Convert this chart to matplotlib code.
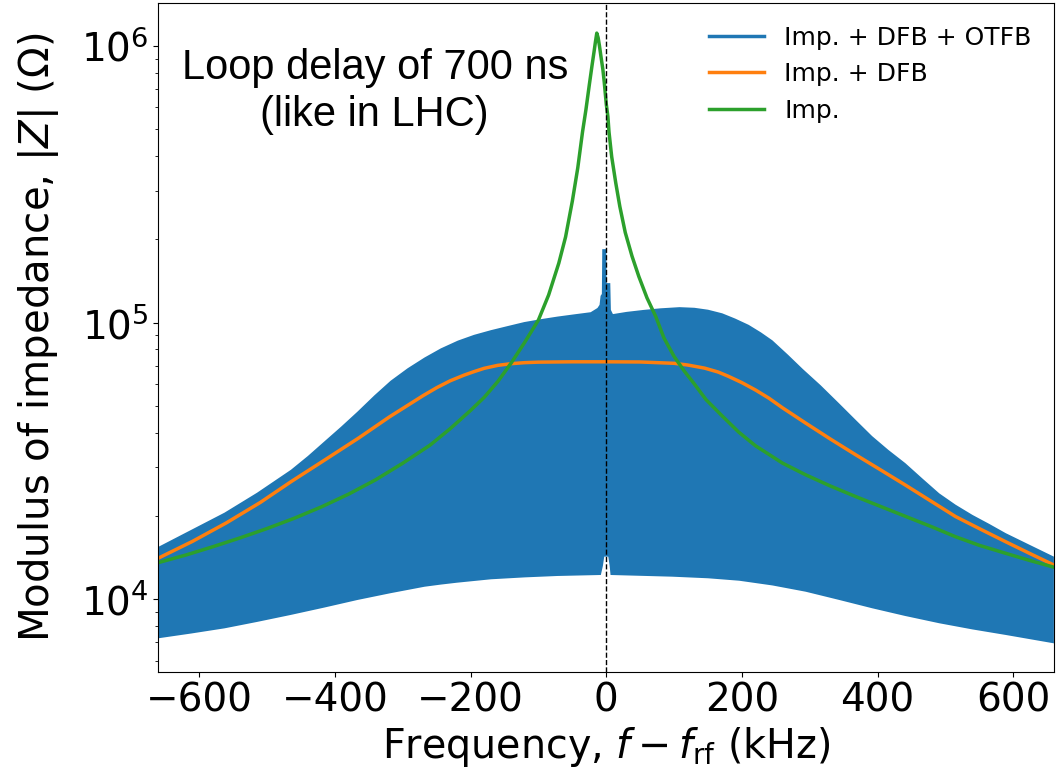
import numpy as np
import matplotlib
matplotlib.use('agg')
import matplotlib.pyplot as plt
from matplotlib.lines import Line2D

# frequency offsets in kHz, impedances in Ohm
# OTFB curve oscillates very fast, so it is given by its upper / lower envelope
up_f = [-660, -612, -563, -515, -465, -440, -416, -391, -367, -342, -318, -293,
        -268, -244, -219, -195, -170, -145, -121, -96, -72, -47, -23, -13, -9.9,
        -8.4, -6.5, -5.9, 0, 0.5, 5.9, 6.8, 9.8, 30, 55, 80, 108, 130, 150, 171,
        190, 210, 228, 245, 268, 290, 316, 343, 368, 392, 416, 441, 466, 491, 515,
        540, 565, 589, 625, 660]
otfb_upper = [15490, 17820, 20560, 24270, 29380, 32960, 37150, 42070, 47640, 54580,
              61660, 68390, 74820, 80720, 86100, 90360, 93970, 97270, 100500, 103000,
              105200, 107200, 109100, 113000, 116000, 125000, 127000, 184400, 184400,
              139000, 139000, 111200, 107400, 109400, 111200, 112700, 113800, 113200,
              111400, 108100, 103500, 98200, 92260, 86300, 76560, 67920, 59430, 51170,
              44460, 38900, 34670, 31050, 27350, 24150, 21980, 20180, 18710, 17340,
              15700, 14260]

low_f = [-660, -612, -563, -515, -465, -416, -367, -318, -268, -244, -220, -170, -120,
         -72, -8, -5, -3, 3, 5, 6.3, 97, 150, 196, 245, 294, 343, 392, 440, 491, 540,
         589, 660]
otfb_lower = [7230, 7520, 7850, 8280, 8780, 9330, 9940, 10520, 11100, 11300, 11480,
              11810, 12000, 12140, 12240, 13200, 14260, 14260, 13200, 12240, 12070,
              11910, 11670, 11220, 10650, 9950, 9280, 8710, 8190, 7780, 7430, 6930]

dfb_f = [-660, -610, -560, -510, -465, -415, -365, -320, -270, -250, -230, -210,
         -195, -180, -160, -140, -120, -100, -50, 0, 50, 100, 120, 145, 165, 180, 200,
         220, 240, 260, 294, 330, 368, 405, 441, 478, 515, 552, 589, 625, 660]
dfb_z = [14100, 16200, 18900, 22400, 26600, 31900, 38300, 45600, 54500, 58210, 61660,
         64570, 66530, 68390, 70100, 71100, 71700, 72000, 72200, 72200, 72100, 71300,
         70300, 68500, 66300, 64000, 60700, 57100, 53300, 49200, 43350, 38020, 33270,
         29310, 25880, 22700, 19910, 17910, 16140, 14620, 13300]

imp_f = [-660, -620, -580, -540, -500, -460, -420, -380, -340, -300, -260, -230,
         -200, -180, -160, -140, -120, -100, -85, -70, -60, -50, -42, -35, -30, -25,
         -21, -18, -16, -14, -12, -10, -8, -5, -3, 0, 2.4, 4, 8, 14, 20, 28, 38, 48,
         60, 73, 85, 100, 115, 130, 147, 170, 195, 220, 260, 294, 330, 368, 405, 441,
         480, 515, 550, 589, 625, 660]
imp_z = [13580, 14450, 15490, 16670, 18030, 19630, 21580, 23990, 27040, 31050, 36060,
         41400, 48190, 53700, 61240, 71610, 85110, 102300, 125900, 164100, 204200,
         275400, 363100, 489800, 588800, 724400, 851100, 955000, 1035000, 1114000,
         1072000, 1000000, 922600, 822400, 741300, 616600, 555900, 489800, 398100,
         319900, 263000, 211800, 173800, 146900, 123000, 105200, 88100, 75510, 66830,
         59980, 52720, 46240, 40270, 35890, 31050, 28180, 25700, 23500, 21630, 19950,
         18280, 16830, 15670, 14660, 13800, 13060]

labels = ['Imp. + DFB + OTFB', 'Imp. + DFB', 'Imp.']

fig = plt.figure(figsize=(10.56, 7.79), dpi=100)
ax = fig.add_axes([0.1496, 0.1374, 0.8484, 0.8586])

# band between the envelopes: upper edge left->right, lower edge right->left
ax.fill(up_f + low_f[::-1], otfb_upper + otfb_lower[::-1], color='C0', lw=0)
ax.plot(dfb_f, dfb_z, color='C1', lw=2.5)
ax.plot(imp_f, imp_z, color='C2', lw=2.5)
ax.axvline(0, color='k', ls='--', lw=1)

ax.set_yscale('log')
ax.set_xlim(-661, 660)
ax.set_ylim(5460, 1.43e6)
ax.tick_params(labelsize=28)
ax.set_xlabel(r'Frequency, $f - f_{\rm rf}$ (kHz)', fontsize=28.5)
ax.set_ylabel(r'Modulus of impedance, $|Z|$ ($\Omega$)', fontsize=29, labelpad=14)

ax.text(0.242, 0.868, 'Loop delay of 700 ns\n(like in LHC)', transform=ax.transAxes,
        ha='center', va='center', fontsize=30, family='Liberation Sans')

handles = [Line2D([], [], color=c, lw=2.5) for c in ['C0', 'C1', 'C2']]
ax.legend(handles, labels, loc='upper right', frameon=False, fontsize=18,
          handlelength=2.2)

fig.savefig('out.png', dpi=100)
